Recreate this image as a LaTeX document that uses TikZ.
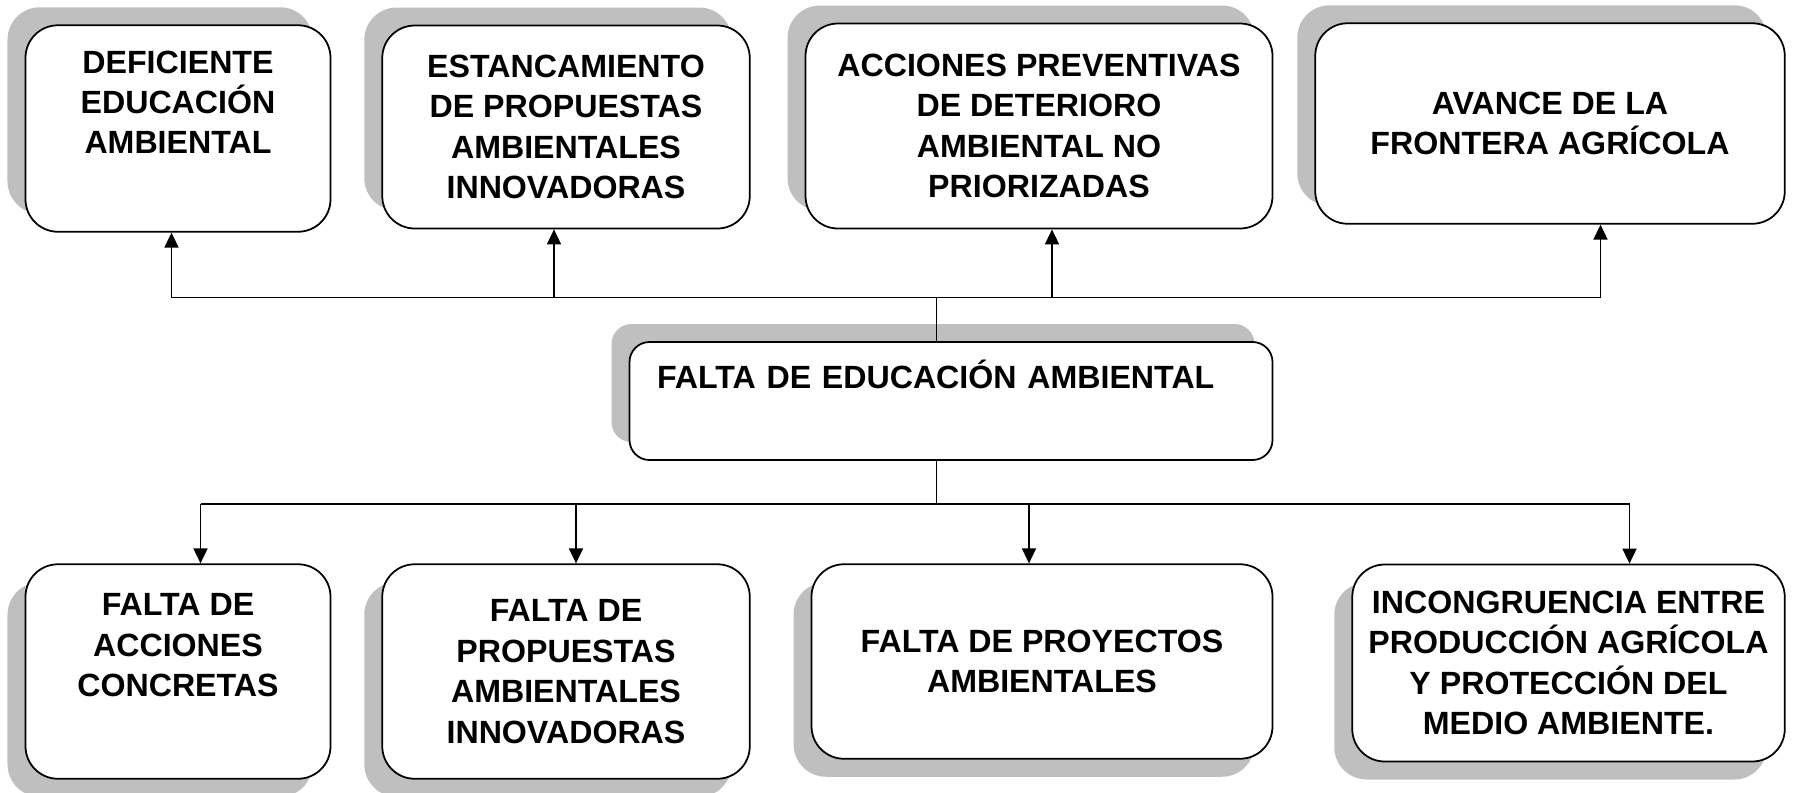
\documentclass[tikz,border=0pt]{standalone}
\usepackage{fontspec}
\setmainfont{Liberation Sans}
\usetikzlibrary{arrows.meta,shadows}

\begin{document}
\begin{tikzpicture}[
	caja/.style={draw, line width=1pt, fill=white, rounded corners=0.65cm, align=center, inner sep=0pt,
		font=\fontsize{18.3}{23}\selectfont\bfseries},
	sombrasup/.style={drop shadow={shadow xshift=-0.36cm, shadow yshift=0.36cm, opacity=1, fill=black!25}},
	sombrainf/.style={drop shadow={shadow xshift=-0.36cm, shadow yshift=-0.36cm, opacity=1, fill=black!25}},
	flecha/.style={-{Triangle[length=0.3cm,width=0.28cm]}, line width=1pt},
	linea/.style={line width=1pt}]
			\useasboundingbox (0,0) rectangle (36.34,-15.853);
			
			%% efectos
			\node[caja, sombrasup, minimum width=6.1cm, minimum height=4.13cm] (b1) at (3.56,-2.57) {DEFICIENTE\\EDUCACIÓN\\AMBIENTAL\\ \strut};
			\node[caja, sombrasup, minimum width=7.35cm, minimum height=4.06cm] (b2) at (11.32,-2.54) {ESTANCAMIENTO\\DE PROPUESTAS\\AMBIENTALES\\INNOVADORAS};
			\node[caja, sombrasup, minimum width=9.34cm, minimum height=4.1cm] (b3) at (20.78,-2.52) {ACCIONES PREVENTIVAS\\DE DETERIORO\\AMBIENTAL NO\\PRIORIZADAS};
			\node[caja, sombrasup, minimum width=9.39cm, minimum height=4.01cm] (b4) at (31.0,-2.47) {AVANCE DE LA\\FRONTERA AGRÍCOLA};
			
			%% problema central
			\node[caja, sombrasup, rounded corners=0.4cm, align=left, text width=11.76cm, inner xsep=0.55cm,
				minimum height=2.36cm] (m) at (19.02,-8.02) {FALTA DE EDUCACIÓN AMBIENTAL\\ \strut};
			
			%% causas
			\node[caja, sombrainf, minimum width=6.1cm, minimum height=4.29cm] (c1) at (3.56,-13.43) {FALTA DE\\ACCIONES\\CONCRETAS\\ \strut};
			\node[caja, sombrainf, minimum width=7.35cm, minimum height=4.29cm] (c2) at (11.32,-13.43) {FALTA DE\\PROPUESTAS\\AMBIENTALES\\INNOVADORAS};
			\node[caja, sombrainf, minimum width=9.22cm, minimum height=3.89cm] (c3) at (20.84,-13.23) {FALTA DE PROYECTOS\\AMBIENTALES};
			\node[caja, sombrainf, minimum width=8.65cm, minimum height=3.94cm] (c4) at (31.37,-13.26) {INCONGRUENCIA ENTRE\\PRODUCCIÓN AGRÍCOLA\\Y PROTECCIÓN DEL\\MEDIO AMBIENTE.};
			
			\coordinate (s1) at (3.43,-5.95);
			\coordinate (s2) at (11.08,-5.95);
			\coordinate (s3) at (21.04,-5.95);
			\coordinate (s4) at (32.01,-5.95);
			\coordinate (sm) at (18.73,-5.95);
			
			\coordinate (i1) at (4.01,-10.08);
			\coordinate (i2) at (11.52,-10.08);
			\coordinate (i3) at (20.58,-10.08);
			\coordinate (i4) at (32.59,-10.08);
			\coordinate (im) at (18.73,-10.08);
			
			\draw[linea] (s1) -- (s4);
			\draw[linea] (sm) -- (sm |- m.north);
			\foreach \i in {1,...,4}
				\draw[flecha] (s\i) -- (s\i |- b\i.south);
			
			\draw[linea] (im |- m.south) -- (im);
			\draw[linea] (i1) -- (i4);
			\foreach \i in {1,...,4}
				\draw[flecha] (i\i) -- (i\i |- c\i.north);
			
		\end{tikzpicture}
\end{document}
